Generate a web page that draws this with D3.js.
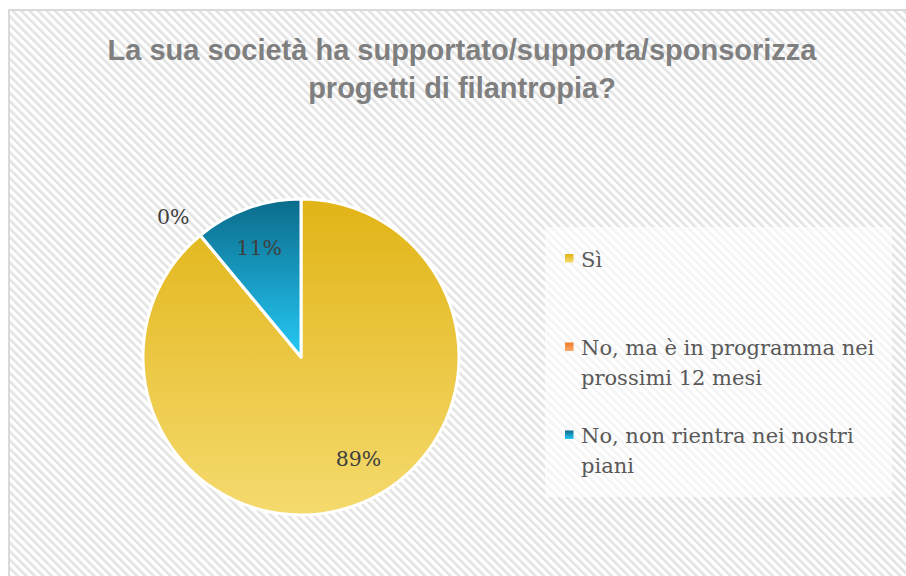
<!DOCTYPE html>
<html><head><meta charset="utf-8">
<script src="https://cdn.jsdelivr.net/npm/d3@7"></script>
<style>html,body{margin:0;padding:0;background:#fff;overflow:hidden}</style>
</head><body>
<svg id="chart" width="906" height="576"></svg>
<script>
const titleLines = ["La sua società ha supportato/supporta/sponsorizza", "progetti di filantropia?"];
const categories = ["Sì", "No, ma è in programma nei prossimi 12 mesi", "No, non rientra nei nostri piani"];
const values = [89, 0, 11];
const colorsTop = ["#e1b416", "#f07a26", "#0b6b8b"];
const colorsBottom = ["#f5da6e", "#fba868", "#25c9f6"];

const svg = d3.select("#chart");
const defs = svg.append("defs");

// background stripes
const pat = defs.append("pattern").attr("id","stripes").attr("patternUnits","userSpaceOnUse")
  .attr("width",6).attr("height",6).attr("patternTransform","rotate(-45)");
pat.append("rect").attr("width",6).attr("height",6).attr("fill","#ffffff");
pat.append("rect").attr("x",0).attr("y",0).attr("width",2.6).attr("height",6).attr("fill","#e3e3e3");

svg.append("rect").attr("width",906).attr("height",576).attr("fill","#fff");
svg.append("rect").attr("x",9).attr("y",10).attr("width",920).attr("height",600)
  .attr("fill","url(#stripes)").attr("stroke","#d9d9d9").attr("stroke-width",2);

// title
const title = svg.append("text").attr("text-anchor","middle")
  .attr("font-family","'Liberation Sans', Arial, sans-serif").attr("font-weight","bold")
  .attr("font-size",29).attr("fill","#7f7f7f");
titleLines.forEach((t,i)=>{
  title.append("tspan").attr("x",462).attr("y",60 + i*38).text(t);
});

// gradients
categories.forEach((c,i)=>{
  const g = defs.append("linearGradient").attr("id","grad"+i)
    .attr("x1",0).attr("y1",0).attr("x2",0).attr("y2",1);
  g.append("stop").attr("offset","0%").attr("stop-color",colorsTop[i]);
  g.append("stop").attr("offset","100%").attr("stop-color",colorsBottom[i]);
});

// pie
const cx = 301, cy = 357, r = 158;
const pie = d3.pie().sort(null).value(d=>d)(values);
const arc = d3.arc().innerRadius(0).outerRadius(r);
const gPie = svg.append("g").attr("transform",`translate(${cx},${cy})`);

gPie.selectAll("path").data(pie).enter().append("path")
  .attr("d",arc)
  .attr("fill",(d,i)=>`url(#grad${i})`)
  .attr("stroke","#fff").attr("stroke-width",3).attr("stroke-linejoin","round");

// data labels
const total = d3.sum(values);
const fmt = v => Math.round(v/total*100) + "%";
const serif = "'DejaVu Serif', 'Liberation Serif', serif";
gPie.selectAll("text.lbl").data(pie).enter().append("text")
  .attr("class","lbl")
  .attr("text-anchor","middle")
  .attr("font-family",serif)
  .attr("font-size",20.5).attr("fill","#404040")
  .attr("transform",(d,i)=>{
    if (d.value === 0) {
      const a = d.startAngle;
      const rr = r*1.03;
      return `translate(${Math.sin(a)*rr - 24},${-Math.cos(a)*rr - 8})`;
    }
    const a = d.startAngle + (d.endAngle - d.startAngle)*0.47;
    const rr = r*0.74;
    return `translate(${Math.sin(a)*rr},${-Math.cos(a)*rr + 7})`;
  })
  .text(d=>fmt(d.value));

// legend
svg.append("rect").attr("x",545).attr("y",227).attr("width",347).attr("height",270)
  .attr("fill","#ffffff").attr("fill-opacity",0.6);

function wrap(text, maxW, font){
  const ctx = document.createElement("canvas").getContext("2d");
  ctx.font = font;
  const words = text.split(" "); const lines=[]; let cur="";
  words.forEach(w=>{
    const t = cur ? cur+" "+w : w;
    if (ctx.measureText(t).width > maxW && cur){ lines.push(cur); cur=w; } else cur=t;
  });
  lines.push(cur); return lines;
}
const legFont = "21px 'DejaVu Serif'";
const legY = [266.5, 355, 443];
categories.forEach((c,i)=>{
  const g = svg.append("g");
  g.append("rect").attr("x",565).attr("y",legY[i]-12.5).attr("width",8.5).attr("height",8.5)
    .attr("fill",`url(#grad${i})`);
  const t = g.append("text").attr("font-family",serif)
    .attr("font-size",21).attr("fill","#595959");
  wrap(c, 305, legFont).forEach((ln,j)=>{
    t.append("tspan").attr("x",581).attr("y",legY[i]+j*29.5).text(ln);
  });
});
</script>
</body></html>
